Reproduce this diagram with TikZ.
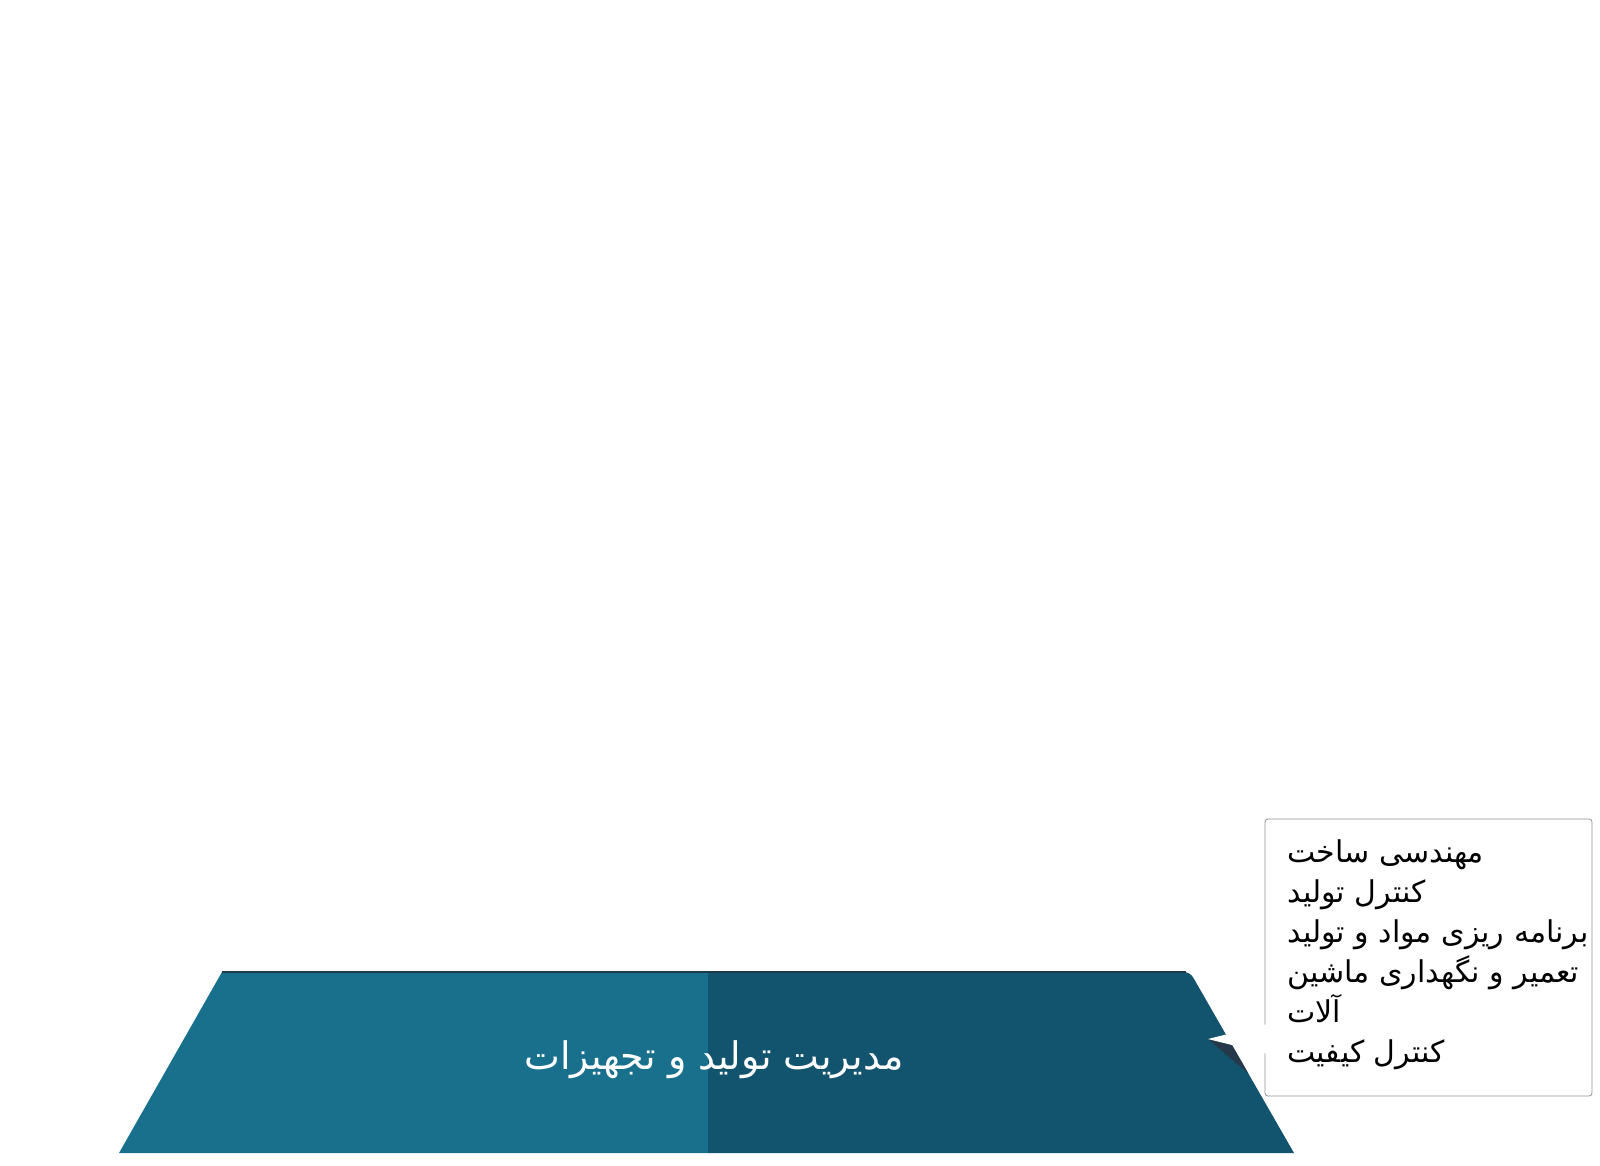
\documentclass[tikz,border=0pt]{standalone}
\usepackage{fontspec}
\newfontfamily\arabicfont[Script=Arabic]{DejaVu Sans}
\TeXXeTstate=1
\definecolor{tealL}{HTML}{18708D}
\definecolor{tealD}{HTML}{12546E}
\definecolor{tealE}{HTML}{1C3A48}
\definecolor{tipshadow}{HTML}{26394A}
\tikzset{
	item/.style={anchor=base west, inner sep=0pt, font=\arabicfont\fontsize{15}{20}\selectfont},
	title/.style={text=white, inner sep=0pt, font=\arabicfont\fontsize{19}{20}\selectfont}
}
\begin{document}
\begin{tikzpicture}[x=0.5pt,y=-0.5pt]
	\useasboundingbox (0,0) rectangle (1600,1166);
	% trapezoid
	\fill[tealL] (222,972) -- (708,972) -- (708,1153) -- (119,1153) -- cycle;
	\fill[tealD] (708,972) [rounded corners=3pt] -- (1190,972) [sharp corners] -- (1294,1153) -- (708,1153) -- cycle;
	\draw[tealE, line width=0.6pt] (222,972) -- (1186,972);
	\node[title] at (714,1060) (title) {\beginR مدیریت تولید و تجهیزات\endR};
	% callout
	\begin{scope}
	\clip (708,972) -- (1190,972) -- (1294,1153) -- (708,1153) -- cycle;
	\fill[tipshadow] (1208,1039) -- (1262,1052) -- (1250,1075) -- cycle;
	\end{scope}
	\draw[gray!85, fill=white, rounded corners=1.5pt] (1265,819) rectangle (1592,1096);
	\fill[white] (1208,1039) -- (1268,1024) -- (1268,1054) -- cycle;
	\node[item] at (1287,862) (l1) {\beginR مهندسی ساخت\endR};
	\node[item] at (1287,902) (l2) {\beginR کنترل تولید\endR};
	\node[item] at (1287,942) (l3) {\beginR برنامه ریزی مواد و تولید\endR};
	\node[item] at (1287,982) (l4) {\beginR تعمیر و نگهداری ماشین\endR};
	\node[item] at (1287,1022) (l5) {\beginR آلات\endR};
	\node[item] at (1287,1062) (l6) {\beginR کنترل کیفیت\endR};
\end{tikzpicture}
\end{document}
